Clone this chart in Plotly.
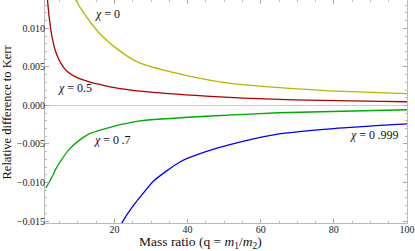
import plotly.graph_objects as go

# chi = 0
q_chi0 = [9.0, 9.4, 11.6, 13.9, 16.2, 20, 23.5, 27, 36, 49.7, 65, 78.8, 100]
v_chi0 = [0.0142, 0.01368, 0.0120, 0.0105, 0.0092, 0.0076, 0.0064, 0.0055, 0.0043, 0.0030, 0.0023, 0.0019, 0.00153]
# chi = 0.5
q_chi05 = [1.6, 2.1, 3.0, 3.9, 5.3, 7.1, 9.8, 13.5, 16.2, 20, 27, 45, 65, 100]
v_chi05 = [0.0142, 0.0116, 0.0087, 0.0070, 0.0055, 0.0044, 0.0036, 0.0030, 0.0027, 0.0023, 0.00185, 0.0012, 0.00078, 0.00048]
# chi = 0.7
q_chi07 = [1.2, 1.4, 2.1, 3.0, 3.9, 5.3, 7.6, 10.7, 13.5, 19, 21.6, 27, 45, 65, 100]
v_chi07 = [-0.0107, -0.01056, -0.0100, -0.0092, -0.0083, -0.0072, -0.0057, -0.0044, -0.0036, -0.0028, -0.0025, -0.0020, -0.0014, -0.00095, -0.00056]
# chi = 0.999
q_chi0999 = [21.8, 22.1, 25.3, 28, 30.7, 38, 45, 54, 65, 80, 100]
v_chi0999 = [-0.0156, -0.0152, -0.0129, -0.0113, -0.0098, -0.0073, -0.0060, -0.0048, -0.0037, -0.0030, -0.0024]

x_ticks = [20, 40, 60, 80, 100]
y_ticks = [-0.015, -0.010, -0.005, 0.0, 0.005, 0.010]

series = [
    (q_chi0, v_chi0, "rgb(181,181,0)"),
    (q_chi05, v_chi05, "rgb(170,0,0)"),
    (q_chi07, v_chi07, "rgb(0,170,0)"),
    (q_chi0999, v_chi0999, "rgb(0,0,240)"),
]

fig = go.Figure()
for xs, ys, col in series:
    fig.add_trace(go.Scatter(x=xs, y=ys, mode="lines",
                             line=dict(color=col, width=1.3, shape="spline", smoothing=0.6),
                             showlegend=False, hoverinfo="skip"))

serif = "Liberation Serif"
axis_common = dict(showgrid=False, ticks="inside", ticklen=4, tickcolor="#aaa", showline=True,
                   linecolor="#bbb", linewidth=1, mirror="allticks",
                   tickfont=dict(family=serif, size=10, color="#222"))

fig.update_xaxes(range=[1, 100], tickvals=x_ticks, zeroline=False, ticklabelstandoff=-3,
                 minor=dict(dtick=5, tick0=0, ticklen=2, tickcolor="#bbb", ticks="inside"),
                 **axis_common)
fig.update_yaxes(range=[-0.01525, 0.01368], tickvals=y_ticks, tickformat=".3f",
                 zeroline=True, zerolinecolor="#ccc", zerolinewidth=1, ticklabelstandoff=-3,
                 minor=dict(dtick=0.001, tick0=0, ticklen=2, tickcolor="#bbb", ticks="inside"),
                 **axis_common)

labels = [
    (18.2, 0.0118, "<i>χ</i> = 0"),
    (9.2, 0.0022, "<i>χ</i> = 0.5"),
    (19.2, -0.0045, "<i>χ</i> = 0\u2009.7"),
    (91, -0.0038, "<i>χ</i> = 0\u2009.999"),
]
ann = []
for x, y, t in labels:
    ann.append(dict(x=x, y=y, xref="x", yref="y", text=t, showarrow=False,
                    font=dict(family=serif, size=12, color="#111")))
ann.append(dict(xref="paper", yref="paper", x=-0.105, y=0.5, text="Relative difference to Kerr",
                textangle=-90, showarrow=False, xanchor="center", yanchor="middle",
                font=dict(family=serif, size=12.5, color="#111")))
ann.append(dict(xref="paper", yref="paper", x=0.43, y=-0.04, yanchor="top",
                text="Mass ratio (q = <i>m</i><sub>1</sub>/<i>m</i><sub>2</sub>)",
                showarrow=False, font=dict(family=serif, size=13.5, color="#111")))

fig.update_layout(width=415, height=251, margin=dict(l=45, r=8, t=0, b=28),
                  plot_bgcolor="white", paper_bgcolor="white", annotations=ann)

fig.write_html("out.html", config={"displayModeBar": False},
               post_script="document.body.style.margin='0';document.body.style.overflow='hidden';")
